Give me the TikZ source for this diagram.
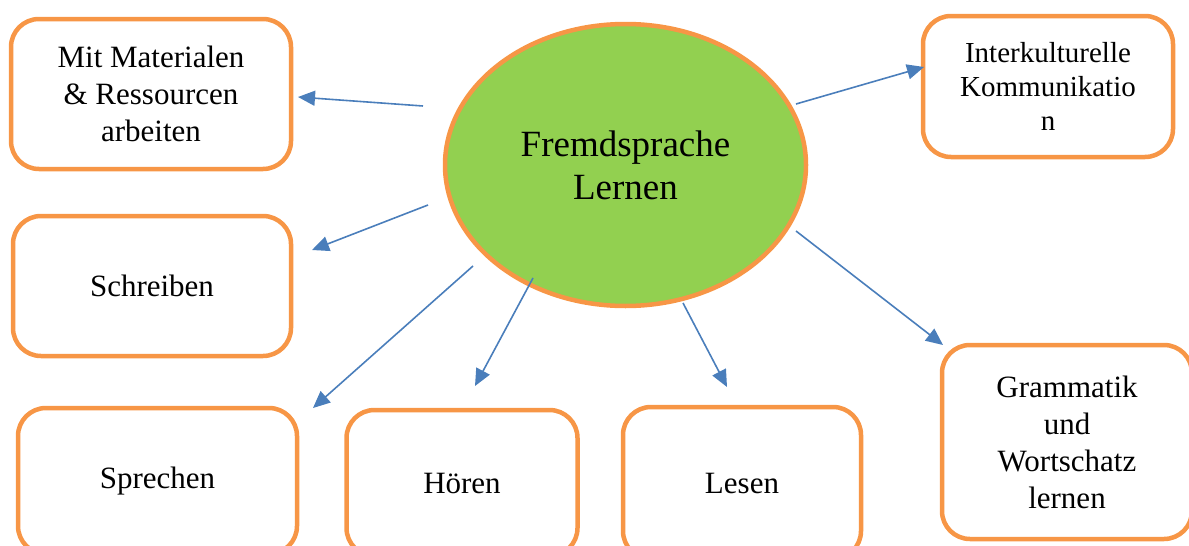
\documentclass[tikz,border=0pt]{standalone}
\usepackage{fontspec}
\setmainfont{Liberation Serif}
\usetikzlibrary{arrows.meta,shapes.geometric}
\definecolor{boxorange}{HTML}{F79646}
\definecolor{centergreen}{HTML}{92D050}
\definecolor{arrowblue}{HTML}{4A7EBB}
\tikzset{
  topicbox/.style={draw=boxorange, line width=4.5pt, rounded corners=28pt, fill=white,
    align=center, inner sep=0pt, font=\fontsize{31}{37}\selectfont},
  link/.style={draw=arrowblue, line width=1.6pt, -{Triangle[length=17pt,width=15pt]}},
}
\begin{document}
\begin{tikzpicture}[x=1pt,y=-1pt]
\useasboundingbox (0,0) rectangle (1189,546);
\clip (0,0) rectangle (1189,546);
% central ellipse
\node[ellipse, draw=boxorange, fill=centergreen, line width=4.5pt,
  minimum width=361pt, minimum height=282pt, inner sep=0pt, align=center,
  font=\fontsize{37}{43}\selectfont] (center) at (625.5,165) {Fremdsprache\\Lernen};
% boxes
\node[topicbox, minimum width=280pt, minimum height=150pt] (mat) at (151,94) {Mit Materialen\\\& Ressourcen\\arbeiten};
\node[topicbox, minimum width=278pt, minimum height=140pt] (schr) at (152,286) {Schreiben};
\node[topicbox, minimum width=279pt, minimum height=146pt] (spr) at (157.5,481) {Sprechen};
\node[topicbox, minimum width=231pt, minimum height=146pt] (hoer) at (462,483) {Hören};
\node[topicbox, minimum width=238pt, minimum height=152pt] (les) at (742,483) {Lesen};
\node[topicbox, minimum width=250pt, minimum height=194pt] (gram) at (1067,442) {Grammatik\\und\\Wortschatz\\lernen};
\node[topicbox, minimum width=250pt, minimum height=141pt, font=\fontsize{29}{34}\selectfont] (ik) at (1048,86.5) {Interkulturelle\\Kommunikatio\\n};
% arrow end points
\coordinate (s1) at (423,106); \coordinate (t1) at (298,97);
\coordinate (s2) at (428,205); \coordinate (t2) at (312,250);
\coordinate (s3) at (473,266); \coordinate (t3) at (313,408);
\coordinate (s4) at (533,278); \coordinate (t4) at (475,386);
\coordinate (s5) at (683,303); \coordinate (t5) at (727,387);
\coordinate (s6) at (796,231); \coordinate (t6) at (943,345);
\coordinate (s7) at (796,104); \coordinate (t7) at (924,67);
\draw[link] (s1) -- (t1);
\draw[link] (s2) -- (t2);
\draw[link] (s3) -- (t3);
\draw[link] (s4) -- (t4);
\draw[link] (s5) -- (t5);
\draw[link] (s6) -- (t6);
\draw[link] (s7) -- (t7);
\end{tikzpicture}
\end{document}
